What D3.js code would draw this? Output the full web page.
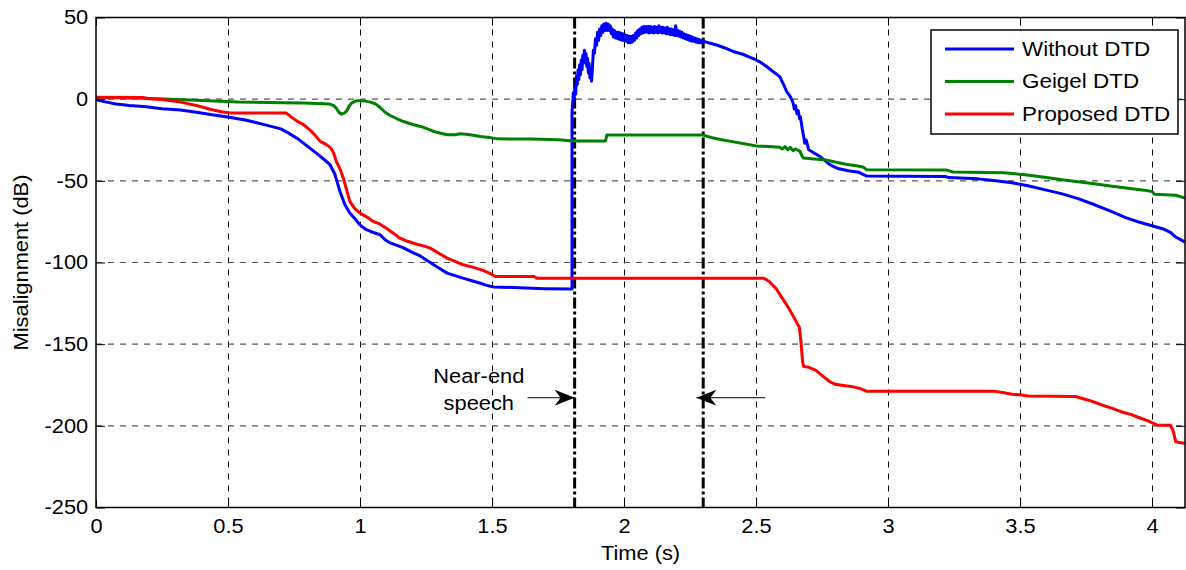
<!DOCTYPE html>
<html>
<head>
<meta charset="utf-8">
<script src="https://cdn.jsdelivr.net/npm/d3@7"></script>
<style>
  body { margin: 0; background: #fff; }
  svg { display: block; font-family: "Liberation Sans", Arial, Helvetica, sans-serif; }
  .tick text { font-size: 19.5px; fill: #000; }
  .axis-label, .legend-text, .note { font-size: 19.5px; fill: #000; }
</style>
</head>
<body>
<div class="chart-container"></div>
<script>
/********** the Data **********/
// [time (s), misalignment (dB)]
let seriesNames = ["Without DTD", "Geigel DTD", "Proposed DTD"];
let seriesColors = ["#0000ff", "#008000", "#ff0000"];

let withoutDTD = [
  [0, -0.4], [0.04, -1.8], [0.076, -3], [0.127, -3.9], [0.19, -4.7], [0.25, -5.9],
  [0.32, -6.7], [0.38, -8], [0.44, -9.6], [0.51, -11.2], [0.57, -12.9], [0.63, -15.3],
  [0.70, -18.2], [0.73, -20.8], [0.77, -24.9], [0.81, -30], [0.85, -35], [0.886, -40],
  [0.905, -46], [0.924, -56.5], [0.943, -64.7], [0.962, -69.8], [0.98, -73], [1.0, -77],
  [1.02, -79.5], [1.04, -81], [1.076, -83], [1.095, -86], [1.114, -88], [1.14, -89.5],
  [1.165, -91], [1.20, -94], [1.228, -96], [1.266, -100], [1.30, -103.5], [1.33, -106.5],
  [1.36, -108], [1.39, -109.6], [1.42, -111], [1.456, -112.7], [1.48, -114], [1.506, -115],
  [1.58, -115.3], [1.70, -116], [1.803, -116.3],
  [1.803, -8], [1.806, -2], [1.808, 4], [1.811, -1], [1.814, 8], [1.817, 3], [1.820, 14],
  [1.823, 9], [1.826, 18], [1.829, 12], [1.832, 21], [1.835, 15], [1.838, 24], [1.841, 18],
  [1.844, 27], [1.847, 22], [1.850, 30], [1.853, 24], [1.856, 28], [1.859, 20], [1.862, 25],
  [1.865, 16], [1.868, 22], [1.871, 13], [1.874, 18], [1.877, 11],
  [1.880, 18], [1.884, 30], [1.888, 28], [1.892, 37], [1.896, 33], [1.900, 41], [1.904, 36],
  [1.908, 43], [1.912, 39], [1.916, 45], [1.920, 41], [1.924, 46], [1.928, 42], [1.932, 46.5],
  [1.936, 42], [1.940, 46], [1.944, 42], [1.948, 45], [1.952, 40], [1.956, 43], [1.960, 38],
  [1.964, 42], [1.968, 37.5], [1.972, 41], [1.976, 37], [1.980, 41], [1.984, 36.5], [1.988, 40.5],
  [1.992, 36], [1.996, 40], [2.000, 36], [2.004, 39.5], [2.008, 35.5], [2.012, 39], [2.016, 34.5],
  [2.020, 38.5], [2.024, 34.5], [2.028, 38.5], [2.032, 35], [2.036, 39], [2.040, 36], [2.044, 40.5],
  [2.048, 37.5], [2.052, 42], [2.056, 39], [2.060, 43], [2.064, 40], [2.068, 44], [2.072, 40.5],
  [2.076, 44.5], [2.080, 41], [2.084, 44.5], [2.088, 41], [2.092, 44.5], [2.096, 40.5], [2.100, 44.5],
  [2.104, 41], [2.108, 44], [2.112, 40.5], [2.116, 44.5], [2.120, 41], [2.124, 44], [2.128, 40.5],
  [2.132, 45], [2.136, 41], [2.140, 44], [2.144, 40.5], [2.148, 44], [2.152, 40.5], [2.156, 43.5],
  [2.160, 40], [2.164, 44], [2.168, 40], [2.172, 43], [2.176, 39.5], [2.180, 43], [2.184, 39.5],
  [2.188, 42.5], [2.192, 39], [2.196, 45], [2.200, 39], [2.204, 42], [2.208, 38.5], [2.212, 41.5],
  [2.216, 38], [2.220, 41], [2.224, 37.5], [2.228, 40], [2.232, 37], [2.236, 39.5], [2.240, 36.5],
  [2.244, 39], [2.248, 36], [2.252, 38.5], [2.256, 35.5], [2.260, 38], [2.264, 35.5], [2.268, 37.5],
  [2.272, 35], [2.276, 37], [2.280, 34.5], [2.284, 36.5], [2.288, 34.5], [2.292, 36], [2.296, 34.5],
  [2.300, 35.5],
  [2.32, 34.5], [2.354, 33], [2.38, 31.5], [2.417, 29], [2.45, 27.5], [2.48, 25.5],
  [2.50, 24], [2.518, 22.5], [2.54, 20], [2.568, 16.5], [2.59, 13.8], [2.606, 8.5],
  [2.615, 5], [2.63, 1.5], [2.64, -2], [2.645, -6], [2.65, -4], [2.655, -9], [2.66, -7],
  [2.665, -12], [2.668, -10.7], [2.675, -18], [2.685, -27], [2.69, -25], [2.70, -31],
  [2.72, -33], [2.742, -35], [2.757, -37], [2.775, -39.5],
  [2.79, -41], [2.81, -42.4], [2.85, -43.8], [2.89, -44.8], [2.905, -46], [2.92, -47.1],
  [3.217, -47.3], [3.23, -48], [3.34, -48.8], [3.40, -49.8], [3.47, -51.2], [3.53, -53],
  [3.60, -55.7], [3.66, -58], [3.72, -60.9], [3.78, -64.5], [3.85, -69], [3.90, -72.5],
  [3.95, -75.2], [4.00, -77.5], [4.04, -79.3], [4.07, -81.5], [4.09, -84.4], [4.125, -87.5]
];

let geigelDTD = [
  [0, 1], [0.18, 0.6], [0.38, -0.6], [0.54, -1.8], [0.71, -2.2], [0.785, -2.4], [0.886, -3],
  [0.90, -4], [0.91, -5.5], [0.92, -8], [0.93, -9.2], [0.94, -8.5], [0.95, -7.1], [0.96, -4],
  [0.968, -2.4], [0.985, -1], [1.0, -1], [1.02, -1.2], [1.04, -1.8], [1.06, -3], [1.076, -5.1],
  [1.095, -8], [1.114, -10], [1.14, -12], [1.165, -13.7], [1.2, -15.5], [1.23, -16.7],
  [1.26, -18.5], [1.28, -19.8], [1.31, -21], [1.33, -21.8], [1.36, -21.8], [1.38, -21.2],
  [1.41, -21.6], [1.44, -22.4], [1.456, -22.9], [1.49, -23.4], [1.52, -24.3], [1.65, -24.4],
  [1.75, -24.9], [1.81, -25.6], [1.93, -25.6], [1.935, -22], [2.30, -22], [2.33, -23.5],
  [2.37, -24.8], [2.41, -26], [2.45, -27.2], [2.50, -28.6], [2.55, -29], [2.59, -29.5],
  [2.60, -30.5], [2.61, -29], [2.62, -31], [2.63, -29.5], [2.64, -31.5], [2.65, -30.5],
  [2.667, -32], [2.675, -35], [2.68, -36], [2.72, -36.6], [2.765, -37.2], [2.80, -38.5],
  [2.84, -39.8], [2.88, -40.8], [2.905, -41.5], [2.92, -43.2], [3.22, -43.3], [3.246, -44.6],
  [3.44, -45.1], [3.52, -46.3], [3.60, -48], [3.66, -49.3], [3.72, -50.6], [3.78, -51.8],
  [3.85, -53.3], [3.91, -54.5], [3.97, -55.7], [4.0, -56.5], [4.01, -58.2], [4.09, -58.8],
  [4.11, -59.8], [4.125, -60.5]
];

let proposedDTD = [
  [0, 1.2], [0.177, 1.0], [0.20, 0.3], [0.25, -0.2], [0.32, -1.8], [0.38, -3.9], [0.44, -6.5],
  [0.48, -7.8], [0.51, -8.4], [0.72, -8.4], [0.74, -11], [0.76, -13.3], [0.785, -15.5],
  [0.81, -18.8], [0.83, -22], [0.85, -26], [0.87, -27.5], [0.89, -30], [0.90, -33], [0.91, -38],
  [0.925, -43], [0.937, -48.4], [0.95, -56], [0.962, -62.7], [0.98, -67], [1.0, -69.8],
  [1.03, -72.5], [1.05, -74.9], [1.07, -76], [1.10, -79], [1.13, -82.5], [1.15, -85],
  [1.18, -87], [1.215, -88.8], [1.24, -89.8], [1.266, -91.2], [1.30, -94.5], [1.33, -97.3],
  [1.36, -99.3], [1.39, -101.4], [1.43, -103], [1.468, -105], [1.49, -106.5], [1.513, -108.6],
  [1.66, -108.6], [1.67, -109.6], [2.53, -109.6], [2.55, -111.6], [2.576, -116], [2.60, -122],
  [2.626, -128.5], [2.65, -135.6], [2.664, -139.6], [2.67, -147.8], [2.676, -160], [2.68, -163.6],
  [2.70, -164.2], [2.727, -166], [2.745, -168.5], [2.764, -171], [2.78, -173], [2.80, -174.6],
  [2.83, -175.3], [2.865, -176], [2.895, -177.2], [2.92, -178.9], [3.407, -178.9], [3.44, -179.8],
  [3.47, -180.7], [3.50, -181], [3.53, -181.7], [3.71, -182], [3.76, -184.3], [3.79, -186],
  [3.82, -187.8], [3.85, -189.3], [3.885, -191.5], [3.92, -193], [3.95, -194.9], [3.985, -197],
  [4.02, -199.6], [4.07, -199.6], [4.08, -203], [4.09, -209.8], [4.125, -210.8]
];

let xTicks = [0, 0.5, 1, 1.5, 2, 2.5, 3, 3.5, 4];
let yTicks = [-250, -200, -150, -100, -50, 0, 50];
let xDomain = [0, 4.125];
let yDomain = [-250, 50];

// near-end speech interval markers
let speechBounds = [1.813, 2.3];

/********** drawChart function **********/
function drawChart() {
  let width = 1186;
  let height = 570;
  let margin = {top: 17.5, right: 1, bottom: 62.5, left: 96};
  let stretch = 1.12; // the original lettering is a little wider than Liberation Sans

  let xScale = d3.scaleLinear()
                .domain(xDomain)
                .range([margin.left, width - margin.right]);

  let yScale = d3.scaleLinear()
                .domain(yDomain)
                .range([height - margin.bottom, margin.top]);

  let chart = d3.select(".chart-container")
              .append("svg")
                .attr("width", width)
                .attr("height", height);

  let defs = chart.append("defs");
  defs.append("clipPath")
      .attr("id", "plot-clip")
    .append("rect")
      .attr("x", margin.left)
      .attr("y", margin.top)
      .attr("width", width - margin.left - margin.right)
      .attr("height", height - margin.top - margin.bottom);

  /***** grid *****/
  let grid = chart.append("g").attr("class", "grid");

  grid.selectAll(".vgrid")
      .data(xTicks.filter(d => d > xDomain[0]))
    .enter().append("line")
      .attr("x1", d => Math.round(xScale(d)) + 0.5)
      .attr("x2", d => Math.round(xScale(d)) + 0.5)
      .attr("y1", margin.top)
      .attr("y2", height - margin.bottom)
      .attr("stroke", "#000")
      .attr("stroke-width", 1)
      .attr("stroke-dasharray", "6,6");

  grid.selectAll(".hgrid")
      .data(yTicks.filter(d => d > yDomain[0] && d < yDomain[1]))
    .enter().append("line")
      .attr("x1", margin.left)
      .attr("x2", width - margin.right)
      .attr("y1", d => yScale(d))
      .attr("y2", d => yScale(d))
      .attr("stroke", "#555")
      .attr("stroke-width", 1.2)
      .attr("stroke-dasharray", "6,6");

  /***** speech interval lines (dash-dot) *****/
  chart.selectAll(".speech-line")
      .data(speechBounds)
    .enter().append("line")
      .attr("class", "speech-line")
      .attr("x1", d => xScale(d))
      .attr("x2", d => xScale(d))
      .attr("y1", margin.top)
      .attr("y2", height - margin.bottom)
      .attr("stroke", "#000")
      .attr("stroke-width", 3)
      .attr("stroke-dasharray", "11,3,3,3");

  /***** the three curves *****/
  let line = d3.line()
              .x(d => xScale(d[0]))
              .y(d => yScale(d[1]));

  let allSeries = [withoutDTD, geigelDTD, proposedDTD];

  chart.append("g")
      .attr("clip-path", "url(#plot-clip)")
    .selectAll(".curve")
      .data(allSeries)
    .enter().append("path")
      .attr("class", "curve")
      .attr("d", d => line(d))
      .attr("fill", "none")
      .attr("stroke", (d, i) => seriesColors[i])
      .attr("stroke-width", 3)
      .attr("stroke-linejoin", "round");

  /***** axes (ticks pointing inward) *****/
  let xAxis = d3.axisBottom(xScale)
                .tickValues(xTicks)
                .tickFormat(d => String(d))
                .tickSizeInner(-8)
                .tickSizeOuter(0)
                .tickPadding(12);

  let yAxis = d3.axisLeft(yScale)
                .tickValues(yTicks)
                .tickFormat(d => String(d))
                .tickSizeInner(-9)
                .tickSizeOuter(0)
                .tickPadding(7);

  chart.append("g")
    .attr("class", "x-axis")
    .attr("transform", `translate(0, ${height - margin.bottom})`)
    .call(xAxis);

  chart.append("g")
    .attr("class", "y-axis")
    .attr("transform", `translate(${margin.left}, 0)`)
    .call(yAxis);

  chart.selectAll(".x-axis .tick text, .y-axis .tick text")
    .attr("transform", `scale(${stretch}, 1)`);

  // mirrored ticks on top and right
  chart.append("g")
    .attr("transform", `translate(0, ${margin.top})`)
    .call(d3.axisTop(xScale).tickValues(xTicks).tickSizeInner(-8).tickSizeOuter(0).tickFormat(""));

  chart.append("g")
    .attr("transform", `translate(${width - margin.right}, 0)`)
    .call(d3.axisRight(yScale).tickValues(yTicks).tickSizeInner(-9).tickSizeOuter(0).tickFormat(""));

  chart.selectAll(".domain").remove();
  chart.selectAll(".tick line").attr("stroke", "#000");

  // axes box
  chart.append("rect")
    .attr("x", margin.left)
    .attr("y", margin.top)
    .attr("width", width - margin.left - margin.right)
    .attr("height", height - margin.top - margin.bottom)
    .attr("fill", "none")
    .attr("stroke", "#000")
    .attr("stroke-width", 1.5);

  /***** axis labels *****/
  chart.append("text")
    .attr("class", "axis-label")
    .attr("transform", `translate(${(margin.left + width - margin.right) / 2}, ${height - 10}) scale(${stretch}, 1)`)
    .attr("text-anchor", "middle")
    .text("Time (s)");

  chart.append("text")
    .attr("class", "axis-label")
    .attr("transform", `translate(28, ${(margin.top + height - margin.bottom) / 2}) rotate(-90) scale(${stretch}, 1)`)
    .attr("text-anchor", "middle")
    .text("Misalignment (dB)");

  /***** near-end speech annotation *****/
  defs.append("marker")
      .attr("id", "arrow-head")
      .attr("viewBox", "0 0 20 16")
      .attr("refX", 20)
      .attr("refY", 8)
      .attr("markerWidth", 20)
      .attr("markerHeight", 16)
      .attr("markerUnits", "userSpaceOnUse")
      .attr("orient", "auto")
    .append("path")
      .attr("d", "M0,0 L20,8 L0,16 L6,8 Z")
      .attr("fill", "#000");

  let arrowY = -182.8;
  let arrows = [[1.635, speechBounds[0]], [2.535, 2.274]];

  chart.selectAll(".arrow")
      .data(arrows)
    .enter().append("line")
      .attr("class", "arrow")
      .attr("x1", d => xScale(d[0]))
      .attr("x2", d => xScale(d[1]))
      .attr("y1", yScale(arrowY))
      .attr("y2", yScale(arrowY))
      .attr("stroke", "#000")
      .attr("stroke-width", 1)
      .attr("marker-end", "url(#arrow-head)");

  chart.append("text")
    .attr("class", "note")
    .attr("transform", `translate(${xScale(1.45)}, ${yScale(-174)}) scale(${stretch}, 1)`)
    .attr("text-anchor", "middle")
    .text("Near-end");

  chart.append("text")
    .attr("class", "note")
    .attr("transform", `translate(${xScale(1.45)}, ${yScale(-190)}) scale(${stretch}, 1)`)
    .attr("text-anchor", "middle")
    .text("speech");

  /***** legend *****/
  let legend = chart.append("g")
                .attr("class", "legend")
                .attr("transform", "translate(931, 30)");

  legend.append("rect")
    .attr("width", 247)
    .attr("height", 104)
    .attr("fill", "#fff")
    .attr("stroke", "#000")
    .attr("stroke-width", 1.5);

  let rows = legend.selectAll(".legend-row")
      .data(seriesNames)
    .enter().append("g")
      .attr("class", "legend-row")
      .attr("transform", (d, i) => `translate(0, ${19 + i * 32.5})`);

  rows.append("line")
    .attr("x1", 14)
    .attr("x2", 83)
    .attr("stroke", (d, i) => seriesColors[i])
    .attr("stroke-width", 3);

  rows.append("text")
    .attr("class", "legend-text")
    .attr("transform", `translate(91, 0) scale(1.15, 1)`)
    .attr("dy", "0.35em")
    .text(d => d);
}

drawChart();
</script>
</body>
</html>
